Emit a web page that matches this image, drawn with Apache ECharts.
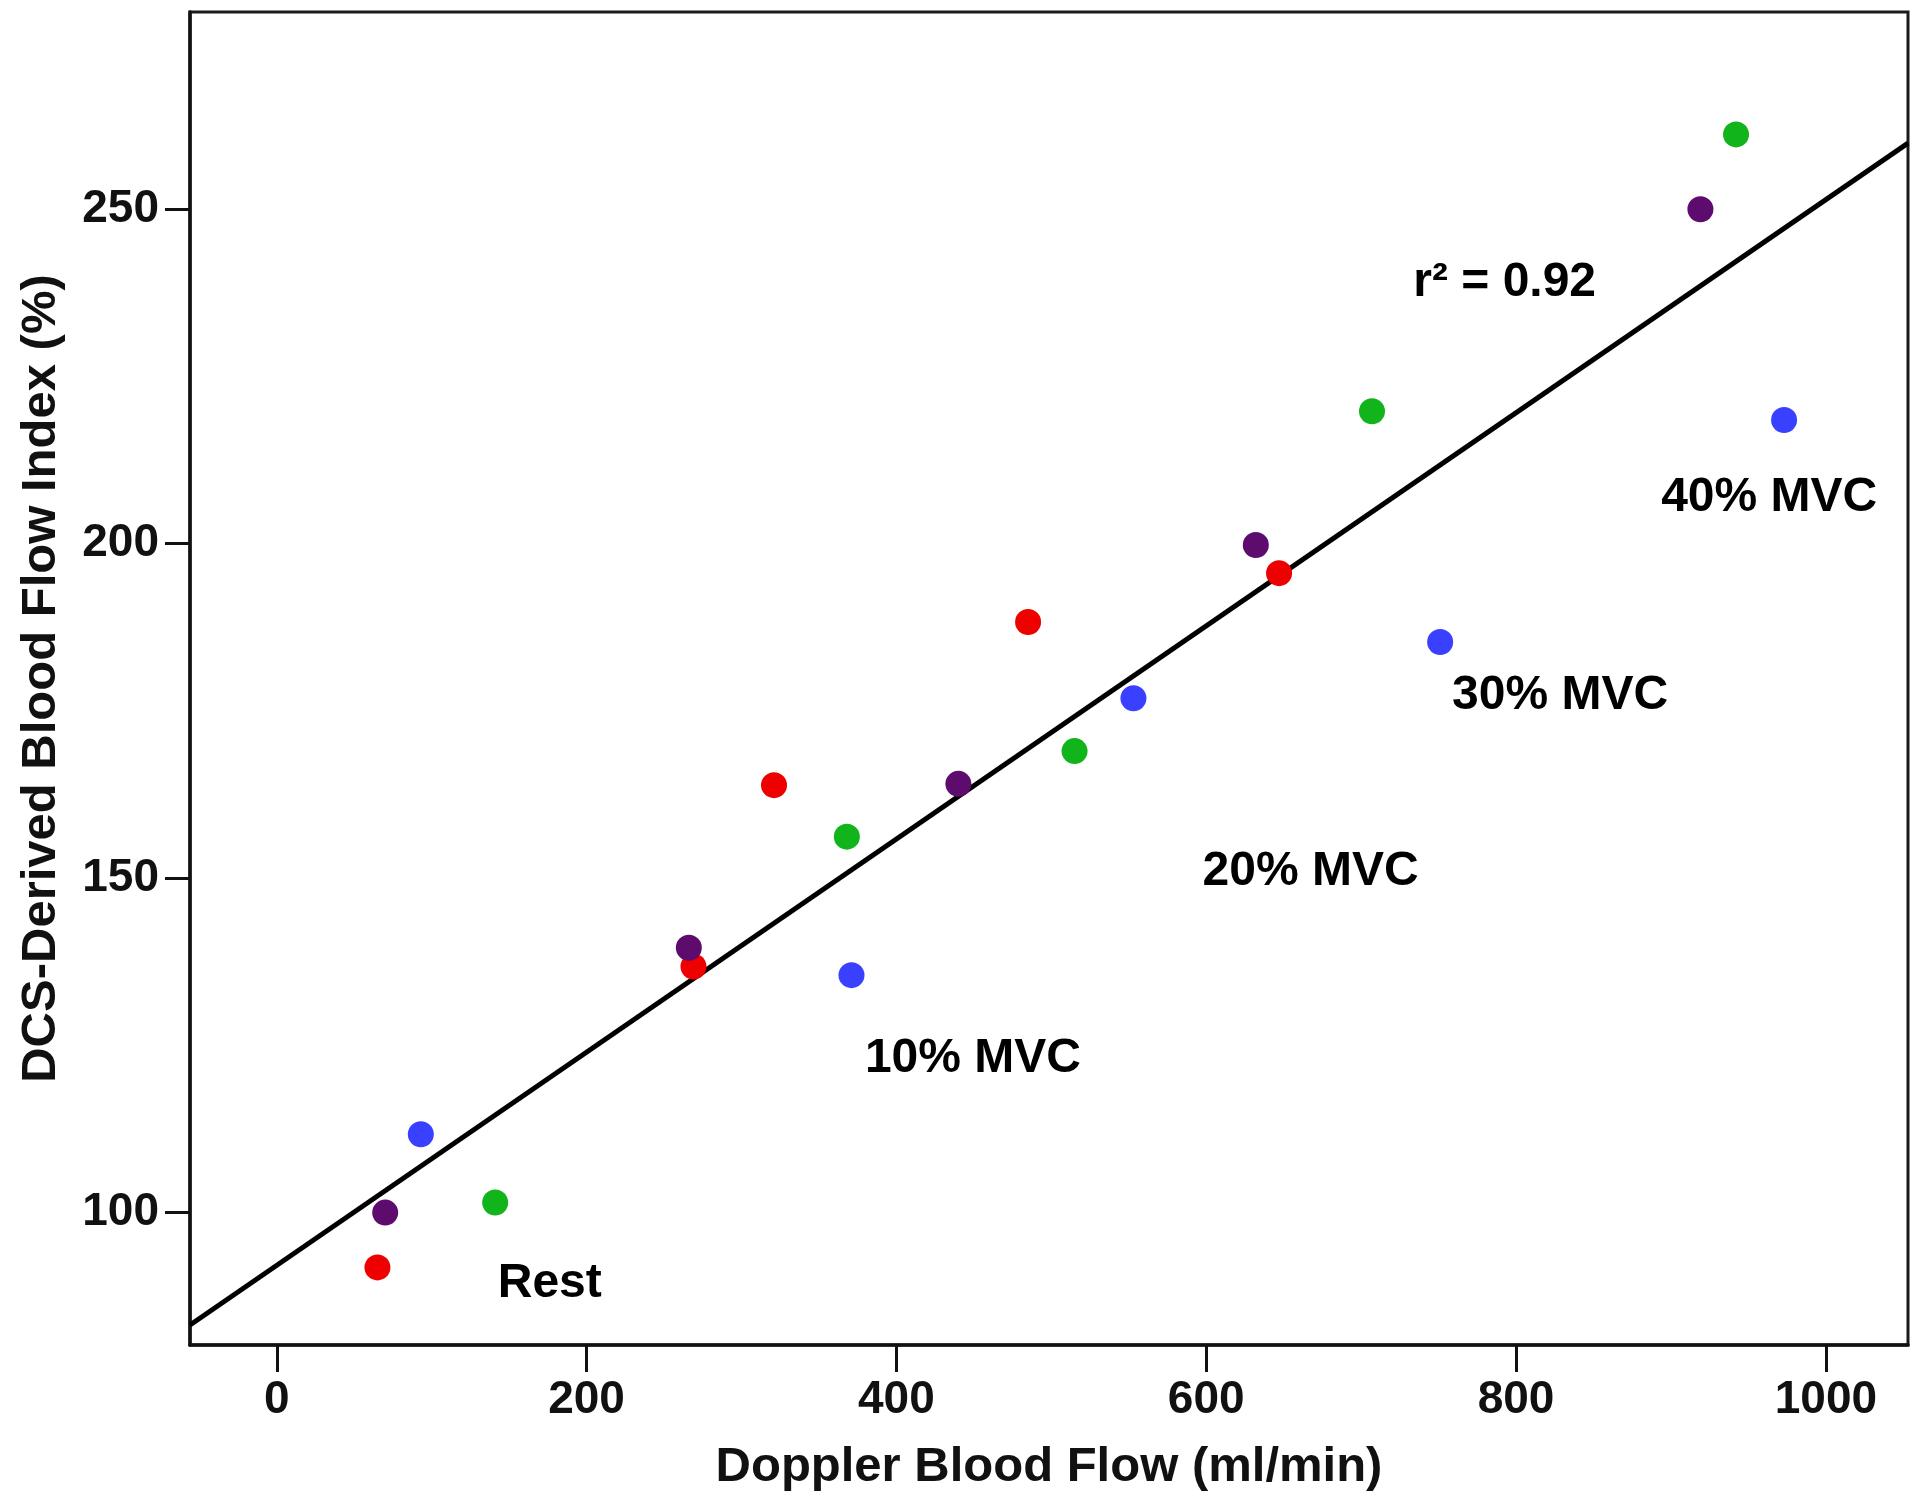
<!DOCTYPE html>
<html>
<head>
<meta charset="utf-8">
<script src="https://cdn.jsdelivr.net/npm/echarts@6/dist/echarts.min.js"></script>
<style>html,body{margin:0;padding:0;background:#fff}#c{width:1920px;height:1507px}</style>
</head>
<body>
<div id="c"></div>
<script>
// Data (Doppler ml/min, DCS BFI %)
const redX = [65, 269, 321, 485, 647];
const redY = [91.8, 136.8, 163.9, 188.3, 195.6];
const purpleX = [70, 266, 440, 632, 919];
const purpleY = [100.0, 139.6, 164.1, 199.8, 250.0];
const blueX = [93, 371, 553, 751, 973];
const blueY = [111.7, 135.5, 176.9, 185.3, 218.5];
const greenX = [141, 368, 515, 707, 942];
const greenY = [101.5, 156.2, 169.0, 219.8, 261.2];
const fitLineX = [-56, 1053];
const fitLineY = [83.2, 259.9];
const xTicks = [0, 200, 400, 600, 800, 1000];
const yTicks = [100, 150, 200, 250];
const noteText = ['Rest', '10% MVC', '20% MVC', '30% MVC', '40% MVC', 'r\u00B2 = 0.92'];
const noteX = [142, 379, 597, 758, 893, 733];
const noteY = [89.3, 123.0, 151.0, 177.2, 206.9, 239.0];

const zip = (xs, ys) => xs.map((x, i) => [x, ys[i]]);
const FONT = 'Liberation Sans';
const chart = echarts.init(document.getElementById('c'), null, {renderer: 'canvas'});
const dot = (name, xs, ys, color) => ({
  name, type: 'scatter', data: zip(xs, ys), symbol: 'circle', symbolSize: 26,
  itemStyle: {color: color, opacity: 1}, z: 3
});
chart.setOption({
  animation: false,
  backgroundColor: '#ffffff',
  grid: {left: 190, right: 12, top: 12, bottom: 162, show: true, borderColor: '#1a1a1a', borderWidth: 3, containLabel: false},
  xAxis: {
    type: 'value', min: -56, max: 1053,
    name: 'Doppler Blood Flow (ml/min)', nameLocation: 'middle', nameGap: 98,
    nameTextStyle: {fontFamily: FONT, fontWeight: 'bold', fontSize: 49, color: '#111'},
    splitLine: {show: false},
    axisLine: {show: true, onZero: false, lineStyle: {color: '#111', width: 3.5}},
    axisTick: {show: true, inside: false, length: 27, lineStyle: {color: '#111', width: 3}, customValues: xTicks},
    axisLabel: {fontFamily: FONT, fontWeight: 'bold', fontSize: 46, color: '#111', margin: 32, customValues: xTicks,
      formatter: v => String(v)}
  },
  yAxis: {
    type: 'value', min: 80.2, max: 279.5,
    name: 'DCS-Derived Blood Flow Index (%)', nameLocation: 'middle', nameGap: 124, nameRotate: 90,
    nameTextStyle: {fontFamily: FONT, fontWeight: 'bold', fontSize: 49, color: '#111'},
    splitLine: {show: false},
    axisLine: {show: true, onZero: false, lineStyle: {color: '#111', width: 3.5}},
    axisTick: {show: true, inside: false, length: 25, lineStyle: {color: '#111', width: 3}, customValues: yTicks},
    axisLabel: {fontFamily: FONT, fontWeight: 'bold', fontSize: 46, color: '#111', margin: 31, customValues: yTicks,
      formatter: v => String(v)}
  },
  series: [
    {
      name: 'fit', type: 'line', data: zip(fitLineX, fitLineY), symbol: 'none',
      lineStyle: {color: '#000', width: 5}, z: 2, silent: true
    },
    dot('red', redX, redY, '#ee0000'),
    dot('purple', purpleX, purpleY, '#5e0b6e'),
    dot('blue', blueX, blueY, '#3a40ff'),
    dot('green', greenX, greenY, '#12b41c'),
    {
      name: 'notes', type: 'scatter', symbolSize: 2, itemStyle: {color: 'rgba(255,255,255,0)'},
      data: noteX.map((x, i) => ({value: [x, noteY[i]], name: noteText[i]})),
      label: {show: true, position: 'right', distance: 0, formatter: p => p.name, opacity: 1,
        fontFamily: FONT, fontWeight: 'bold', fontSize: 48, color: '#000', align: 'left', verticalAlign: 'middle'},
      labelLayout: {hideOverlap: false},
      z: 4, silent: true
    }
  ]
});
</script>
</body>
</html>
